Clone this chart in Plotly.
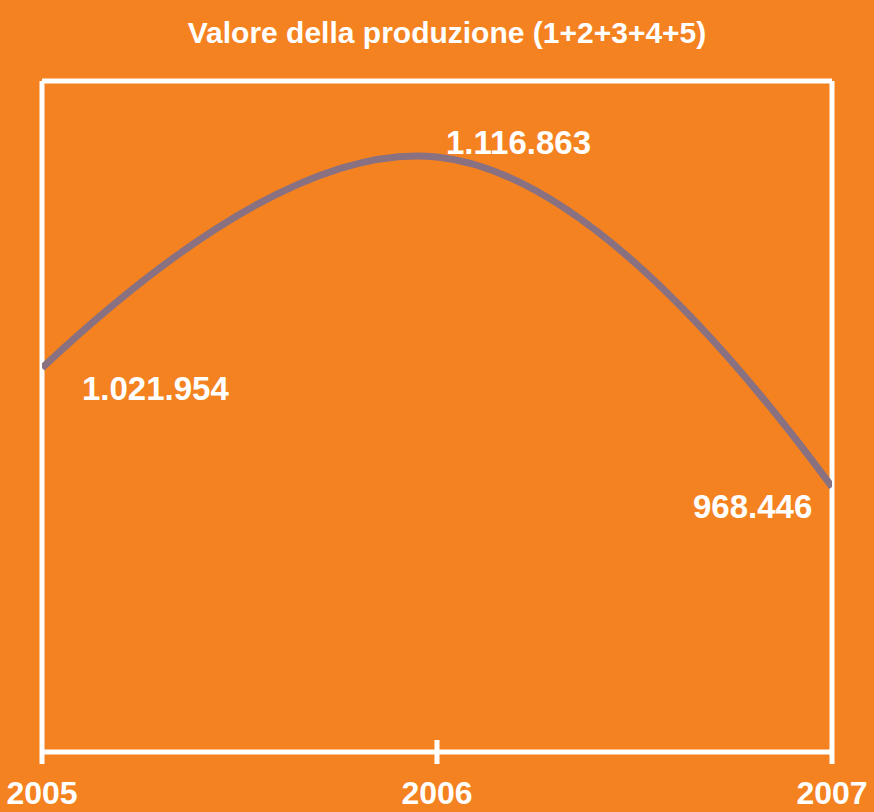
import plotly.graph_objects as go

years = [2005, 2006, 2007]
values = [1021954, 1116863, 968446]
value_labels = ["1.021.954", "1.116.863", "968.446"]
tick_labels = ["2005", "2006", "2007"]
title_text = "Valore della produzione (1+2+3+4+5)"

BG = "#F58220"
LINE = "#897182"
WHITE = "#FFFFFF"
FW = 5          # frame line width (px)
PLOT_H = 812 - 81 - 60
TICK = 12 / PLOT_H

fig = go.Figure()
fig.add_trace(go.Scatter(
    x=years, y=values, mode="lines",
    line=dict(color=LINE, width=7, shape="spline", smoothing=1.2),
    hoverinfo="skip", showlegend=False,
))

shifts = [(113, -20), (81, 14), (-80, -19)]
for x, y, t, (dx, dy) in zip(years, values, value_labels, shifts):
    fig.add_annotation(x=x, y=y, xref="x", yref="y", text=t, showarrow=False,
                       xshift=dx, yshift=dy,
                       font=dict(family="Liberation Sans", size=33, color=WHITE, weight="bold"))

# frame: top, left, right, bottom axis line (under the data line)
frame = dict(color=WHITE, width=FW)
for (x0, x1, y0, y1) in [(0, 1, 1, 1), (0, 0, 0, 1), (1, 1, 0, 1), (0, 1, 0, 0)]:
    fig.add_shape(type="line", xref="x domain", yref="y domain",
                  x0=x0, x1=x1, y0=y0, y1=y1, line=frame, layer="below")
# tick marks crossing the axis, at every year position of the x scale
span = years[-1] - years[0]
for yr in years:
    f = (yr - years[0]) / span
    top = TICK if 0 < f < 1 else 0
    fig.add_shape(type="line", xref="x domain", yref="y domain", x0=f, x1=f,
                  y0=-TICK, y1=top, line=frame, layer="above")

fig.update_layout(
    width=874, height=812, autosize=False,
    paper_bgcolor=BG, plot_bgcolor=BG,
    margin=dict(l=42, r=42, t=81, b=60, pad=0, autoexpand=False),
    title=dict(text=title_text, x=447 / 874, xref="container", xanchor="center",
               y=1 - 32 / 812, yanchor="middle", automargin=False,
               font=dict(family="Liberation Sans", size=30, color=WHITE, weight="bold")),
    xaxis=dict(range=[2005, 2007], tickvals=years, ticktext=tick_labels,
               showline=False, ticks="outside", ticklen=12, tickwidth=0.01,
               tickcolor=BG, ticklabelstandoff=1,
               showgrid=False, zeroline=False, automargin=False,
               tickfont=dict(family="Liberation Sans", size=32, color=WHITE, weight="bold")),
    yaxis=dict(range=[849300, 1151000], showline=False,
               ticks="", showticklabels=False, showgrid=False, zeroline=False,
               automargin=False),
)

fig.write_html("out.html", config={"displayModeBar": False, "responsive": False},
               post_script="document.body.style.margin='0';document.body.style.background='" + BG + "';")
